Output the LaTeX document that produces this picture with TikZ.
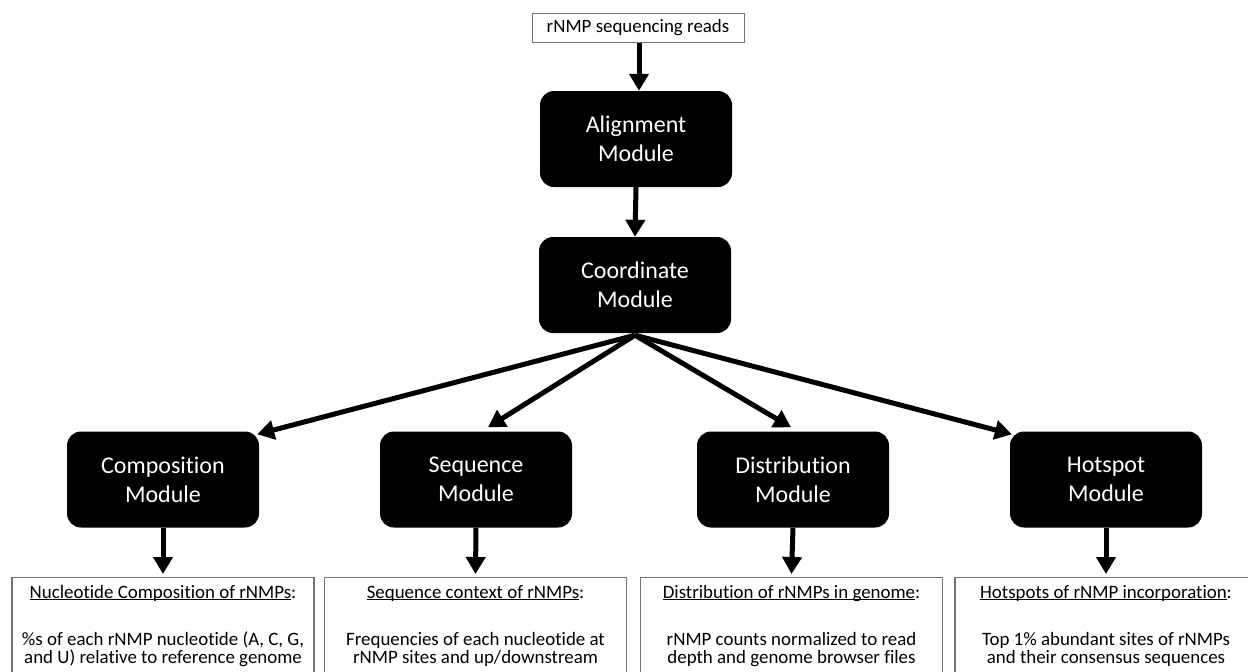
\documentclass[tikz,border=0pt]{standalone}
\usepackage{fontspec}
\setmainfont{Carlito}[Ligatures={NoCommon}]
\usetikzlibrary{arrows.meta}
\newcommand\myul[1]{\setbox0\hbox{#1}\rlap{\rule[-2.2pt]{\wd0}{0.9pt}}\box0}
\begin{document}
\begin{tikzpicture}[x=1pt,y=-1pt,
 module/.style={fill=black, rounded corners=14pt, minimum width=192pt, minimum height=96pt, text=white, align=center, font=\fontsize{24}{29}\selectfont, inner sep=0pt},
 outbox/.style={draw=black!55, line width=1.3pt, minimum width=302pt, minimum height=140pt, anchor=north, inner sep=0pt},
 outtext/.style={align=center, font=\fontsize{18.9}{18}\selectfont, anchor=base, inner sep=0pt},
 arr/.style={line width=5pt, -{Triangle[length=17pt,width=19pt]}},
]
\useasboundingbox (0,0) rectangle (1248,672);
\clip (0,0) rectangle (1248,672);
\fill[white] (0,0) rectangle (1248,672);

\node[draw=black!55, line width=1pt, minimum width=212pt, minimum height=29pt, inner sep=0pt, font=\fontsize{18.9}{18}\selectfont] (reads) at (638,27.5) {rNMP sequencing reads};

\node[module] (align) at (636,139) {Alignment\\Module};
\node[module] (coord) at (635,285) {Coordinate\\Module};

\node[module] (comp) at (163,479.5) {Composition\\Module};
\node[module] (seq) at (476,479.5) {Sequence\\Module};
\node[module] (dist) at (793,479.5) {Distribution\\Module};
\node[module] (hot) at (1106,479.5) {Hotspot\\Module};

\node[outbox] (b1) at (163,577) {};
\node[outbox] (b2) at (475.5,577) {};
\node[outbox] (b3) at (791.5,577) {};
\node[outbox] (b4) at (1106,577) {};

\node[outtext] (t1) at (163,598) {\myul{Nucleotide Composition of rNMPs}:};
\node[outtext] (t2) at (475.5,598) {\myul{Sequence context of rNMPs}:};
\node[outtext] (t3) at (791.5,598) {\myul{Distribution of rNMPs in genome}:};
\node[outtext] (t4) at (1106,598) {\myul{Hotspots of rNMP incorporation}:};

\node[outtext] (d1) at (163,663) {\%s of each rNMP nucleotide (A, C, G,\\and U) relative to reference genome};
\node[outtext] (d2) at (475.5,663) {Frequencies of each nucleotide at\\rNMP sites and up/downstream};
\node[outtext] (d3) at (791.5,663) {rNMP counts normalized to read\\depth and genome browser files};
\node[outtext] (d4) at (1106,663) {Top 1\% abundant sites of rNMPs\\and their consensus sequences};

\draw[arr] ([xshift=1pt]reads.south) -- ([xshift=3pt]align.north);
\draw[arr] (align.south) -- (coord.north);

\draw[arr] ([yshift=-2pt]coord.south) -- ([xshift=-2pt,yshift=-3pt]comp.north east);
\draw[arr] ([yshift=-2pt]coord.south) -- ([xshift=12pt,yshift=4pt]seq.north);
\draw[arr] ([yshift=-2pt]coord.south) -- ([xshift=-2pt,yshift=4pt]dist.north);
\draw[arr] ([yshift=-2pt]coord.south) -- ([xshift=2pt,yshift=-3pt]hot.north west);

\draw[arr] (comp.south) -- ([yshift=3pt]b1.north);
\draw[arr] (seq.south) -- ([yshift=3pt]b2.north);
\draw[arr] (dist.south) -- ([yshift=3pt]b3.north);
\draw[arr] (hot.south) -- ([yshift=3pt]b4.north);
\end{tikzpicture}
\end{document}
